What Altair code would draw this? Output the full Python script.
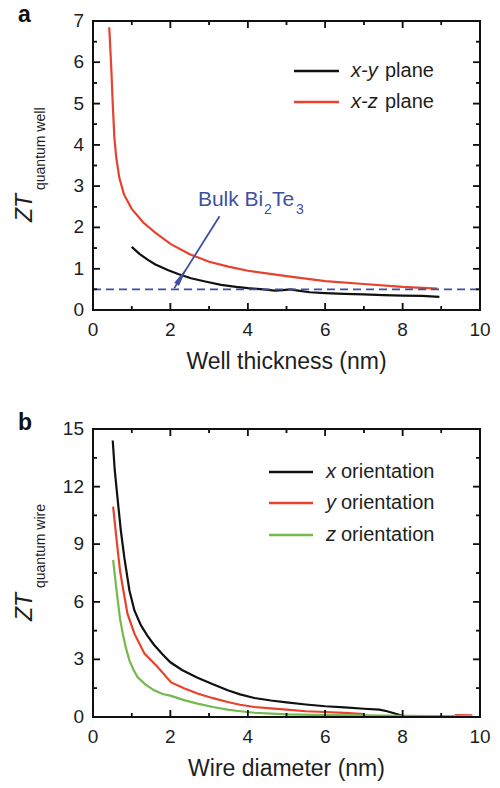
import altair as alt
import pandas as pd

# ---------------- data ----------------
# Panel a: ZT of quantum wells vs well thickness
a_xy_x = [1.0, 1.2, 1.41, 1.6, 1.93, 2.2, 2.53, 2.9, 3.31, 3.7, 4.0, 4.4, 4.7, 4.9, 5.1, 5.3, 5.6, 6.0, 6.5, 7.0, 7.5, 8.0, 8.5, 8.95]
a_xy_y = [1.53, 1.36, 1.22, 1.11, 0.97, 0.87, 0.77, 0.69, 0.61, 0.56, 0.53, 0.50, 0.47, 0.48, 0.50, 0.47, 0.43, 0.41, 0.39, 0.38, 0.36, 0.35, 0.34, 0.32]
a_xz_x = [0.42, 0.47, 0.51, 0.55, 0.60, 0.68, 0.80, 1.0, 1.3, 1.6, 2.0, 2.5, 3.0, 3.5, 4.0, 5.0, 6.0, 7.0, 8.0, 8.9]
a_xz_y = [6.85, 5.9, 5.0, 4.2, 3.7, 3.2, 2.8, 2.45, 2.12, 1.88, 1.6, 1.35, 1.17, 1.05, 0.95, 0.82, 0.70, 0.63, 0.56, 0.52]
a_names = ["x-y plane", "x-z plane"]
a_italic = ["x-y", "x-z"]
a_rest = ["plane", "plane"]
bulk_zt = 0.5
arrow_x = [3.27, 2.10]
arrow_y = [2.27, 0.53]

# Panel b: ZT of quantum wires vs wire diameter
b_x_x = [0.51, 0.56, 0.64, 0.72, 0.81, 0.94, 1.07, 1.24, 1.4, 1.58, 1.8, 2.0, 2.3, 2.7, 3.1, 3.48, 3.8, 4.17, 4.6, 5.0, 5.5, 6.0, 6.5, 7.0, 7.4, 7.6, 7.8, 8.0]
b_x_y = [14.4, 12.9, 11.27, 9.7, 8.3, 6.6, 5.55, 4.77, 4.25, 3.75, 3.25, 2.85, 2.45, 2.05, 1.7, 1.39, 1.18, 0.99, 0.86, 0.76, 0.65, 0.56, 0.50, 0.43, 0.38, 0.30, 0.18, 0.06]
b_y_x = [0.52, 0.58, 0.64, 0.70, 0.77, 0.89, 1.07, 1.33, 1.67, 2.02, 2.35, 2.7, 3.1, 3.48, 3.8, 4.17, 4.6, 5.0, 5.5, 6.0, 6.5, 7.0]
b_y_y = [10.96, 9.8, 8.67, 7.6, 6.76, 5.38, 4.34, 3.3, 2.6, 1.8, 1.5, 1.22, 0.98, 0.78, 0.64, 0.52, 0.45, 0.38, 0.30, 0.26, 0.22, 0.15]
b_y_tail_x = [9.35, 9.8]
b_y_tail_y = [0.10, 0.08]
b_z_x = [0.52, 0.58, 0.64, 0.70, 0.77, 0.85, 0.94, 1.05, 1.15, 1.35, 1.58, 1.8, 2.02, 2.35, 2.7, 3.1, 3.48, 3.8, 4.17, 4.6, 5.0, 6.0, 7.0, 8.0, 9.0, 9.8]
b_z_y = [8.18, 7.1, 6.07, 5.1, 4.34, 3.6, 2.95, 2.45, 2.08, 1.7, 1.39, 1.2, 1.1, 0.88, 0.7, 0.52, 0.38, 0.30, 0.22, 0.18, 0.14, 0.10, 0.08, 0.06, 0.05, 0.05]
b_names = ["x orientation", "y orientation", "z orientation"]
b_italic = ["x", "y", "z"]
b_rest = ["orientation", "orientation", "orientation"]

x_major = [0, 2, 4, 6, 8, 10]
x_minor = [1, 3, 5, 7, 9]
a_y_major = [0, 1, 2, 3, 4, 5, 6, 7]
a_y_minor = [0.5, 1.5, 2.5, 3.5, 4.5, 5.5, 6.5]
b_y_major = [0, 3, 6, 9, 12, 15]
b_y_minor = [1.5, 4.5, 7.5, 10.5, 13.5]

# ---------------- style / layout ----------------
FONT = "Liberation Sans"
TXT = "#1e1e1e"
BLACK = "#111111"
RED = "#e8412c"
GREEN = "#74b84e"
BLUE = "#3f50a0"
W = 387                 # plot width (both panels)
HA, HB = 289, 288       # panel heights
OFFB = 408              # top of panel b inside the shared drawing area
HT = OFFB + HB          # total drawing height
MAJ, MIN = 7, 4
XMAX = 10

XS = alt.Scale(domain=[0, XMAX], nice=False, zero=False)
X = alt.X("x:Q", scale=XS, axis=None)


def yenc(ymax, top, bottom):
    return alt.Y("y:Q", scale=alt.Scale(domain=[0, ymax], range=[bottom, top], nice=False, zero=False), axis=None)


def one(v):
    return pd.DataFrame({"t": [v]})


def vrule(x0, x1, y0, y1, width=1.5):
    return alt.Chart(one("r")).mark_rule(color=BLACK, strokeWidth=width).encode(
        x=alt.value(x0), x2=alt.value(x1), y=alt.value(y0), y2=alt.value(y1))


def frame_layers(Y, top, H, ymax, yMaj, yMin, xtitle):
    out = []
    # x ticks (bottom and top), inward
    for vals, L in ((x_major, MAJ), (x_minor, MIN)):
        h = ymax * L / H
        d = pd.DataFrame({"x": vals * 2,
                          "y": [0] * len(vals) + [ymax] * len(vals),
                          "y2": [h] * len(vals) + [ymax - h] * len(vals)})
        out.append(alt.Chart(d).mark_rule(color=BLACK, strokeWidth=1.5).encode(
            x=X, y=Y, y2=alt.Y2("y2:Q")))
        # same ticks as fixed-pixel guide rules (axis decoration)
        for v in vals:
            px = v / XMAX * W
            out.append(vrule(px, px, top + H, top + H - L))
            out.append(vrule(px, px, top, top + L))
    # y ticks (left and right), inward
    for vals, L in ((yMaj, MAJ), (yMin, MIN)):
        base = alt.Chart(pd.DataFrame({"y": vals})).mark_rule(color=BLACK, strokeWidth=1.5)
        out.append(base.encode(y=Y, x=alt.value(0), x2=alt.value(L)))
        out.append(base.encode(y=Y, x=alt.value(W), x2=alt.value(W - L)))
        for v in vals:
            py = top + H * (1 - v / ymax)
            out.append(vrule(0, L, py, py))
            out.append(vrule(W - L, W, py, py))
    # frame
    out.append(vrule(-1, W + 1, top, top, 2))
    out.append(vrule(-1, W + 1, top + H, top + H, 2))
    out.append(vrule(0, 0, top, top + H, 2))
    out.append(vrule(W, W, top, top + H, 2))
    # tick labels
    xl = pd.DataFrame({"x": x_major, "y": [0] * len(x_major), "t": [str(v) for v in x_major]})
    out.append(alt.Chart(xl).mark_text(font=FONT, fontSize=19, color=TXT, align="center", baseline="top",
                                       dy=11).encode(x=X, y=Y, text="t:N"))
    yl = pd.DataFrame({"x": [0] * len(yMaj), "y": yMaj, "t": [str(v) for v in yMaj]})
    out.append(alt.Chart(yl).mark_text(font=FONT, fontSize=19, color=TXT, align="right", baseline="middle",
                                       dx=-9).encode(x=X, y=Y, text="t:N"))
    # x axis title
    out.append(alt.Chart(one(xtitle)).mark_text(font=FONT, fontSize=23, color=TXT, align="center",
                                                baseline="top").encode(
        x=alt.value(W / 2), y=alt.value(top + H + 41), text="t:N"))
    return out


def legend_layers(italics, rests, colors, x0, x1, xt, xr, ys_pix):
    out = []
    for it, rest, col, yp in zip(italics, rests, colors, ys_pix):
        out.append(alt.Chart(one(it)).mark_rule(color=col, strokeWidth=2.5).encode(
            x=alt.value(x0), x2=alt.value(x1), y=alt.value(yp)))
        out.append(alt.Chart(one(it)).mark_text(font=FONT, fontSize=20, fontStyle="italic", color=TXT,
                                                align="left", baseline="middle").encode(
            x=alt.value(xt), y=alt.value(yp), text="t:N"))
        out.append(alt.Chart(one(rest)).mark_text(font=FONT, fontSize=20, color=TXT,
                                                  align="left", baseline="middle").encode(
            x=alt.value(xr), y=alt.value(yp), text="t:N"))
    return out


def ytitle_layers(sub, zt_y, sub_y):
    return [
        alt.Chart(one("ZT")).mark_text(font=FONT, fontSize=23, fontStyle="italic", color=TXT, angle=270,
                                       align="left", baseline="alphabetic").encode(
            x=alt.value(-61), y=alt.value(zt_y), text="t:N"),
        alt.Chart(one(sub)).mark_text(font=FONT, fontSize=14, color=TXT, angle=270,
                                      align="left", baseline="alphabetic").encode(
            x=alt.value(-48.5), y=alt.value(sub_y), text="t:N"),
    ]


def letter_layer(ch, y):
    return alt.Chart(one(ch)).mark_text(font=FONT, fontSize=23, fontWeight="bold", color=BLACK,
                                        align="left", baseline="alphabetic").encode(
        x=alt.value(-75), y=alt.value(y), text="t:N")


# ---------------- panel a ----------------
YA = yenc(7, 0, HA)
df_a = pd.concat([
    pd.DataFrame({"x": a_xy_x, "y": a_xy_y, "series": a_names[0], "seg": "0"}),
    pd.DataFrame({"x": a_xz_x, "y": a_xz_y, "series": a_names[1], "seg": "1"}),
])
lines_a = alt.Chart(df_a).mark_line(strokeWidth=2.2).encode(
    x=X, y=YA,
    color=alt.Color("series:N", scale=alt.Scale(domain=a_names, range=[BLACK, RED]), legend=None),
    detail="seg:N",
)
bulk = alt.Chart(pd.DataFrame({"y": [bulk_zt]})).mark_rule(color=BLUE, strokeDash=[8, 5], strokeWidth=1.6).encode(
    y=YA, x=alt.value(0), x2=alt.value(W))
arrow = alt.Chart(pd.DataFrame({"x": arrow_x, "y": arrow_y})).mark_line(color=BLUE, strokeWidth=1.8).encode(
    x=X, y=YA)
f = 0.13
head_x = [arrow_x[1] + (arrow_x[0] - arrow_x[1]) * f]
head_y = [arrow_y[1] + (arrow_y[0] - arrow_y[1]) * f]
head = alt.Chart(pd.DataFrame({"x": head_x, "y": head_y})).mark_point(
    shape="wedge", filled=True, size=520, angle=32, color=BLUE, opacity=1).encode(x=X, y=YA)

bulk_parts = [("Bulk Bi", 21, 0, 0), ("2", 14, 66, 8), ("Te", 21, 74, 0), ("3", 14, 98, 8)]
bulk_text = []
for s, fs, dx, dy in bulk_parts:
    bulk_text.append(alt.Chart(pd.DataFrame({"x": [2.71], "y": [2.51], "t": [s]})).mark_text(
        font=FONT, fontSize=fs, color=BLUE, align="left", baseline="alphabetic", dx=dx, dy=dy).encode(
        x=X, y=YA, text="t:N"))

layers_a = [
    lines_a, bulk, arrow, head, *bulk_text,
    *frame_layers(YA, 0, HA, 7, a_y_major, a_y_minor, "Well thickness (nm)"),
    *legend_layers(a_italic, a_rest, [BLACK, RED], 201, 246, 258, 292, [50, 81]),
    *ytitle_layers("quantum well", 201, 169),
    letter_layer("a", 1),
]

# ---------------- panel b ----------------
YB = yenc(15, OFFB, HT)
df_b = pd.concat([
    pd.DataFrame({"x": b_x_x, "y": b_x_y, "series": b_names[0], "seg": "0"}),
    pd.DataFrame({"x": b_y_x, "y": b_y_y, "series": b_names[1], "seg": "1"}),
    pd.DataFrame({"x": b_y_tail_x, "y": b_y_tail_y, "series": b_names[1], "seg": "1b"}),
    pd.DataFrame({"x": b_z_x, "y": b_z_y, "series": b_names[2], "seg": "2"}),
])
lines_b = alt.Chart(df_b).mark_line(strokeWidth=2.2).encode(
    x=X, y=YB,
    color=alt.Color("series:N", scale=alt.Scale(domain=b_names, range=[BLACK, RED, GREEN]), legend=None),
    detail="seg:N",
)
layers_b = [
    lines_b,
    *frame_layers(YB, OFFB, HB, 15, b_y_major, b_y_minor, "Wire diameter (nm)"),
    *legend_layers(b_italic, b_rest, [BLACK, RED, GREEN], 176, 220, 233, 248,
                   [OFFB + 43, OFFB + 74, OFFB + 106]),
    *ytitle_layers("quantum wire", OFFB + 192, OFFB + 159),
    letter_layer("b", OFFB + 1),
]

chart = alt.layer(*layers_a, *layers_b).resolve_scale(
    y="independent", color="independent"
).properties(
    width=W, height=HT,
    padding={"left": 14, "top": 4, "right": 5, "bottom": 5},
    background="white",
).configure_view(stroke="transparent")

chart.save("out.html", embed_options={"renderer": "svg", "actions": False})
